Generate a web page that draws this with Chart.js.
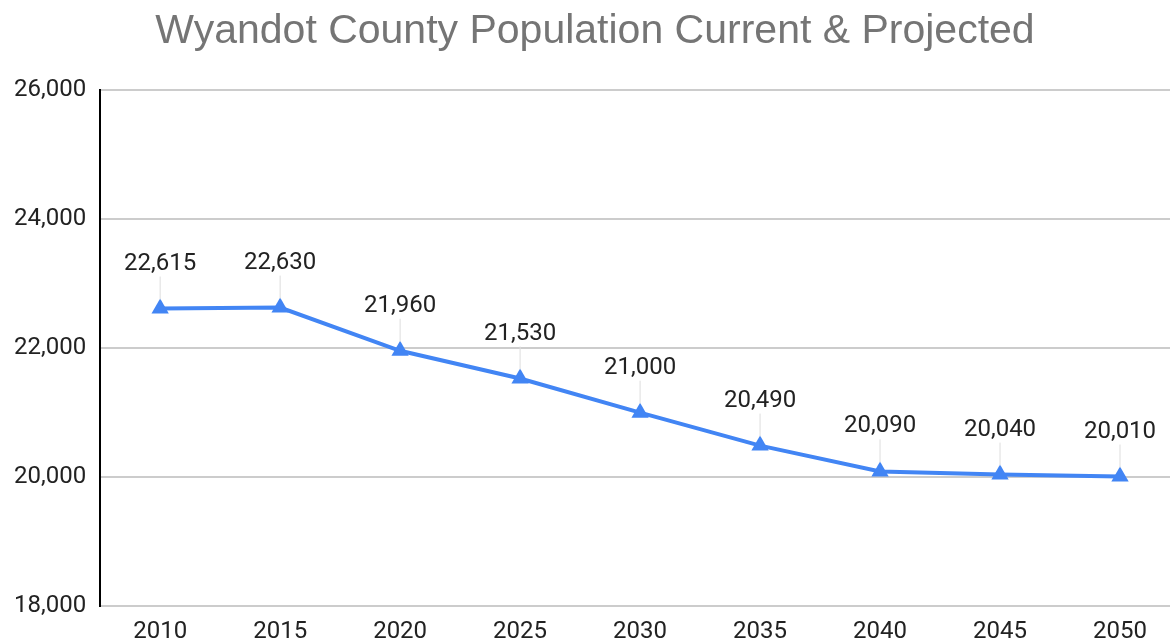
<!DOCTYPE html>
<html>
<head>
<meta charset="utf-8">
<script src="https://cdn.jsdelivr.net/npm/chart.js@4.4.0/dist/chart.umd.min.js"></script>
<style>
  html, body { margin: 0; padding: 0; background: #fff; overflow: hidden; }
  #wrap { width: 1170px; height: 644px; overflow: hidden; }
</style>
</head>
<body>
<div id="wrap"><canvas id="pop" width="1190" height="644"></canvas></div>
<script>
var years = ["2010", "2015", "2020", "2025", "2030", "2035", "2040", "2045", "2050"];
var population = [22615, 22630, 21960, 21530, 21000, 20490, 20090, 20040, 20010];
var yTicks = [18000, 20000, 22000, 24000, 26000];

function fmt(v) {
    return v.toLocaleString("en-US");
}

// value labels with a thin leader line down to the point
var pointLabels = {
    id: "pointLabels",
    afterDatasetsDraw: function(chart) {
        var ctx = chart.ctx;
        var meta = chart.getDatasetMeta(0);
        ctx.save();
        ctx.font = "24px Roboto";
        ctx.textAlign = "center";
        ctx.textBaseline = "middle";
        meta.data.forEach(function(pt, i) {
            ctx.strokeStyle = "#dddddd";
            ctx.lineWidth = 1;
            ctx.beginPath();
            ctx.moveTo(pt.x, pt.y - 32);
            ctx.lineTo(pt.x, pt.y - 9);
            ctx.stroke();
            ctx.fillStyle = "#222222";
            ctx.fillText(fmt(population[i]), pt.x, pt.y - 45);
        });
        ctx.restore();
    }
};

new Chart(document.getElementById("pop"), {
    type: "line",
    data: {
        labels: years,
        datasets: [{
            label: "Population",
            data: population,
            borderColor: "#4285f4",
            backgroundColor: "#4285f4",
            borderWidth: 4,
            pointStyle: "triangle",
            pointRadius: 10,
            pointHoverRadius: 10,
            pointBorderWidth: 0,
            tension: 0
        }]
    },
    options: {
        responsive: false,
        animation: false,
        layout: { padding: { left: 0, right: 0, top: 0, bottom: -13 } },
        plugins: {
            legend: { display: false },
            tooltip: { enabled: false },
            title: {
                display: true,
                text: "Wyandot County Population Current & Projected",
                color: "#757575",
                font: { family: "Liberation Sans", size: 41, weight: "normal" },
                padding: { top: 7, bottom: 34 }
            }
        },
        scales: {
            x: {
                offset: true,
                grid: { display: false, drawTicks: false },
                border: { display: false },
                ticks: {
                    color: "#222222",
                    font: { family: "Roboto", size: 24 },
                    padding: 11
                }
            },
            y: {
                min: 18000,
                max: 26000,
                afterBuildTicks: function(axis) {
                    axis.ticks = yTicks.map(function(v) { return { value: v }; });
                },
                grid: { color: "#cccccc", lineWidth: 2, drawTicks: false },
                border: { display: true, color: "#000000", width: 2 },
                ticks: {
                    color: "#222222",
                    font: { family: "Roboto", size: 24 },
                    padding: 14,
                    callback: function(v) { return fmt(v); }
                }
            }
        }
    },
    plugins: [pointLabels]
});
</script>
</body>
</html>
